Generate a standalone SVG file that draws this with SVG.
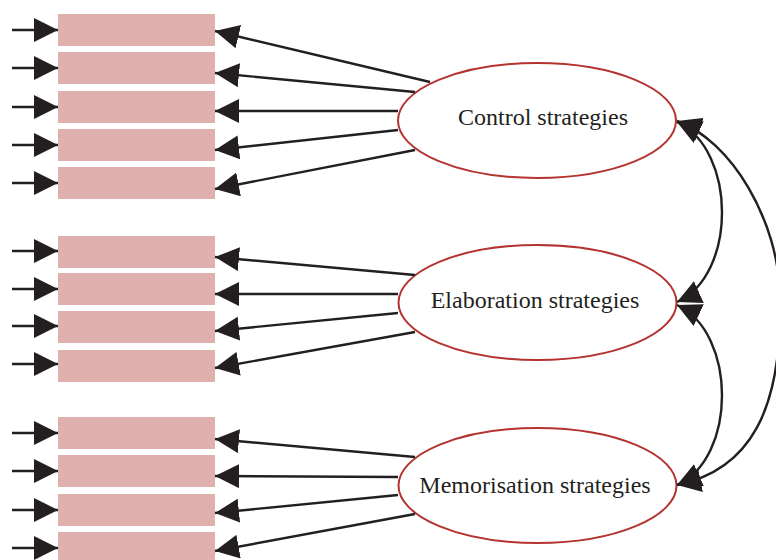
<svg xmlns="http://www.w3.org/2000/svg" width="776" height="560" viewBox="0 0 776 560">
<style>
.box{fill:#dfb0ae}
.lat{fill:#ffffff;stroke:#b3332f;stroke-width:2}
.lbl{font-family:"Liberation Serif","Times New Roman",serif;font-size:24px;fill:#231f20;text-anchor:middle}
.ln{stroke:#231f20;stroke-width:2.4;fill:none;marker-end:url(#ah)}
.cv{stroke:#231f20;stroke-width:2.4;fill:none;marker-start:url(#ah);marker-end:url(#ah)}
</style>
<defs>
<marker id="ah" viewBox="0 0 24 24" refX="24" refY="12" markerWidth="24" markerHeight="24" markerUnits="userSpaceOnUse" orient="auto-start-reverse">
<path d="M0,0 L24,12 L0,24 z" fill="#231f20"/>
</marker>
</defs>
<rect width="776" height="560" fill="#ffffff"/>
<g id="indicators">
<rect class="box" x="58" y="14" width="157" height="32"/>
<rect class="box" x="58" y="52" width="157" height="32"/>
<rect class="box" x="58" y="91" width="157" height="32"/>
<rect class="box" x="58" y="129" width="157" height="32"/>
<rect class="box" x="58" y="167" width="157" height="32"/>
<rect class="box" x="58" y="236" width="157" height="32"/>
<rect class="box" x="58" y="273" width="157" height="32"/>
<rect class="box" x="58" y="311" width="157" height="32"/>
<rect class="box" x="58" y="350" width="157" height="32"/>
<rect class="box" x="58" y="417" width="157" height="32"/>
<rect class="box" x="58" y="455" width="157" height="32"/>
<rect class="box" x="58" y="494" width="157" height="32"/>
<rect class="box" x="58" y="532" width="157" height="32"/>
</g>
<g id="control">
<ellipse class="lat" cx="537" cy="120.5" rx="139" ry="57.5"/>
<text class="lbl" x="543" y="125">Control strategies</text>
</g>
<g id="elaboration">
<ellipse class="lat" cx="537.5" cy="302.5" rx="139" ry="57.5"/>
<text class="lbl" x="535" y="308">Elaboration strategies</text>
</g>
<g id="memorisation">
<ellipse class="lat" cx="537.5" cy="485.5" rx="139" ry="57.5"/>
<text class="lbl" x="535" y="493">Memorisation strategies</text>
</g>
<g id="connectors">
<path class="ln" d="M12,30 H58"/>
<path class="ln" d="M12,68 H58"/>
<path class="ln" d="M12,107 H58"/>
<path class="ln" d="M12,145 H58"/>
<path class="ln" d="M12,183 H58"/>
<path class="ln" d="M12,251 H58"/>
<path class="ln" d="M12,289 H58"/>
<path class="ln" d="M12,326 H58"/>
<path class="ln" d="M12,364 H58"/>
<path class="ln" d="M12,433 H58"/>
<path class="ln" d="M12,471 H58"/>
<path class="ln" d="M12,510 H58"/>
<path class="ln" d="M12,548 H58"/>
<path class="ln" d="M430,82 L215,31"/>
<path class="ln" d="M415,92 L215,73"/>
<path class="ln" d="M398,111 L215,111"/>
<path class="ln" d="M398,130 L215,150"/>
<path class="ln" d="M415,150 L215,189"/>
<path class="ln" d="M415,275 L215,257"/>
<path class="ln" d="M398,294 L215,294"/>
<path class="ln" d="M398,313 L215,331"/>
<path class="ln" d="M415,332 L215,368"/>
<path class="ln" d="M415,457 L215,439"/>
<path class="ln" d="M398,477 L215,476"/>
<path class="ln" d="M398,495 L215,513"/>
<path class="ln" d="M415,514 L215,551"/>
<path class="cv" d="M677,122 C737,150 737,275 677,302"/>
<path class="cv" d="M677,305 C737,333 737,458 677,485"/>
<path class="cv" d="M677,121 C730,140 780,220 780,300 C782,410 750,470 677,485"/>
</g>
</svg>
